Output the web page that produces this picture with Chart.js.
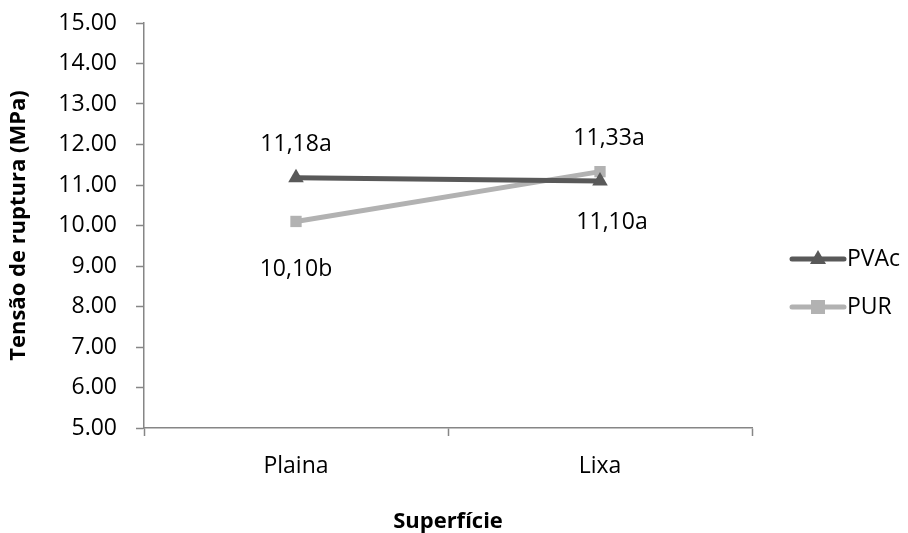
<!DOCTYPE html>
<html>
<head>
<meta charset="utf-8">
<script src="https://cdn.jsdelivr.net/npm/chart.js@4/dist/chart.umd.min.js"></script>
<style>
    html, body { margin: 0; padding: 0; background: #fff; }
    #wrap { width: 908px; height: 533px; }
</style>
</head>
<body>
<div id="wrap"><canvas id="tensaoChart" width="908" height="533"></canvas></div>
<script>
const superficies = ["Plaina", "Lixa"];
const pvac = [11.18, 11.10];
const pur = [10.10, 11.33];
const pvacLetras = ["a", "a"];
const purLetras = ["b", "a"];
const yTicks = [5, 6, 7, 8, 9, 10, 11, 12, 13, 14, 15];

const FONT = "'Open Sans', 'DejaVu Sans', sans-serif";
const DARK = "#595959";
const LIGHT = "#b2b2b2";
const AXIS = "#868686";

// where each value label sits relative to its point (dx, dy)
const labelOffsets = [
    [[0, -33], [12, 42]],
    [[0, 48], [9, -33]]
];

const valueLabels = {
    id: "valueLabels",
    afterDatasetsDraw(chart) {
        const c = chart.ctx;
        c.save();
        c.font = "23px " + FONT;
        c.fillStyle = "#000";
        c.textAlign = "center";
        c.textBaseline = "middle";
        chart.data.datasets.forEach((ds, i) => {
            const meta = chart.getDatasetMeta(i);
            meta.data.forEach((pt, j) => {
                const txt = ds.data[j].toFixed(2).replace(".", ",") + ds.letras[j];
                const off = labelOffsets[i][j];
                c.fillText(txt, pt.x + off[0], pt.y + off[1]);
            });
        });
        c.restore();
    }
};

const sideLegend = {
    id: "sideLegend",
    afterDraw(chart) {
        const c = chart.ctx;
        c.save();
        chart.data.datasets.forEach((ds, i) => {
            const y = 259 + i * 48;
            c.strokeStyle = ds.borderColor;
            c.lineWidth = 5;
            c.lineCap = "round";
            c.beginPath();
            c.moveTo(792, y);
            c.lineTo(844, y);
            c.stroke();
            c.fillStyle = ds.borderColor;
            if (ds.pointStyle === "triangle") {
                c.beginPath();
                c.moveTo(818, y - 9);
                c.lineTo(826, y + 5);
                c.lineTo(810, y + 5);
                c.closePath();
                c.fill();
            } else {
                c.fillRect(811, y - 7, 14, 14);
            }
            c.fillStyle = "#000";
            c.font = "23px " + FONT;
            c.textAlign = "left";
            c.textBaseline = "middle";
            c.fillText(ds.label, 847, y);
        });
        c.restore();
    }
};

new Chart(document.getElementById("tensaoChart"), {
    type: "line",
    data: {
        labels: superficies,
        datasets: [
            {
                label: "PVAc",
                data: pvac,
                letras: pvacLetras,
                borderColor: DARK,
                backgroundColor: DARK,
                borderWidth: 5,
                pointStyle: "triangle",
                pointRadius: 9,
                pointBorderWidth: 0,
                tension: 0
            },
            {
                label: "PUR",
                data: pur,
                letras: purLetras,
                borderColor: LIGHT,
                backgroundColor: LIGHT,
                borderWidth: 5,
                pointStyle: "rect",
                pointRadius: 8,
                pointBorderWidth: 0,
                tension: 0
            }
        ]
    },
    options: {
        responsive: false,
        animation: false,
        layout: { padding: { top: 23, right: 156, left: 0, bottom: 0 } },
        plugins: {
            legend: { display: false },
            tooltip: { enabled: false }
        },
        scales: {
            x: {
                offset: true,
                grid: {
                    offset: true,
                    drawOnChartArea: false,
                    color: AXIS,
                    tickLength: 8,
                    tickWidth: 1.5
                },
                border: { color: AXIS, width: 1.5 },
                ticks: {
                    color: "#000",
                    padding: 17,
                    font: { family: FONT, size: 23 }
                },
                title: {
                    display: true,
                    text: "Superfície",
                    color: "#000",
                    font: { family: FONT, size: 22, weight: "bold", lineHeight: 1 },
                    padding: { top: 0, bottom: 0 }
                },
                afterFit(scale) {
                    scale.height = 105;
                    scale.paddingLeft = 0;
                    scale.paddingRight = 0;
                }
            },
            y: {
                min: 5,
                max: 15,
                afterBuildTicks(scale) {
                    scale.ticks = yTicks.map(v => ({ value: v }));
                },
                grid: {
                    drawOnChartArea: false,
                    color: AXIS,
                    tickLength: 8,
                    tickWidth: 1.5
                },
                border: { color: AXIS, width: 1.5 },
                ticks: {
                    color: "#000",
                    padding: 19,
                    font: { family: FONT, size: 23 },
                    callback: v => v.toFixed(2)
                },
                title: {
                    display: true,
                    text: "Tensão de ruptura (MPa)",
                    color: "#000",
                    font: { family: FONT, size: 22, weight: "bold" },
                    padding: { top: 6, bottom: 0 }
                },
                afterFit(scale) {
                    scale.width = 144;
                    scale.paddingTop = 0;
                    scale.paddingBottom = 0;
                }
            }
        }
    },
    plugins: [valueLabels, sideLegend]
});
</script>
</body>
</html>
